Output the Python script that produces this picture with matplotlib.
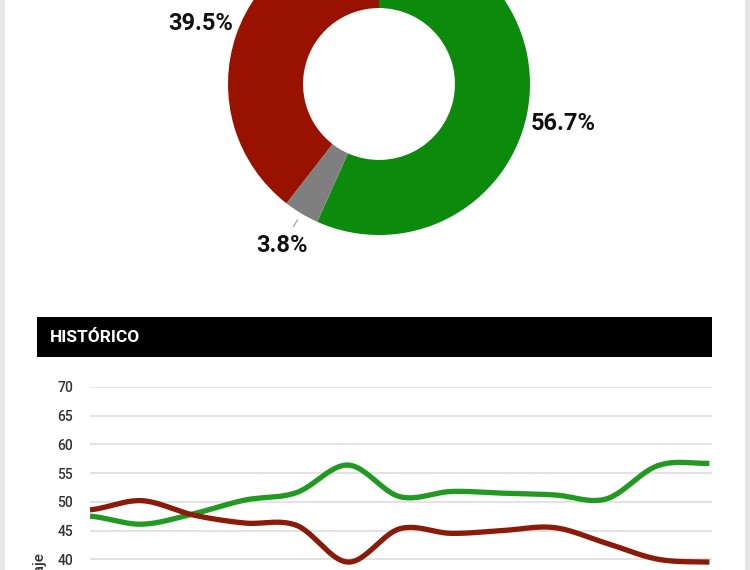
import numpy as np
import matplotlib
matplotlib.use("Agg")
import matplotlib.pyplot as plt
from matplotlib.patches import Rectangle

plt.rcParams['font.family'] = ['Roboto', 'DejaVu Sans']

# DONUT DATA (clockwise from the top)
donut_labels = ["56.7%", "3.8%", "39.5%"]
donut_values = [56.7, 3.8, 39.5]
donut_colors = ["#0b8a0b", "#7f7f7f", "#991200"]

# HISTORY DATA
hist_x = list(range(13))
hist_green = [47.5, 46.1, 47.9, 50.3, 51.6, 56.4, 50.9, 51.8, 51.5, 51.2, 50.5, 56.3, 56.7]
hist_red = [48.6, 50.2, 47.7, 46.3, 45.9, 39.5, 45.3, 44.5, 45.0, 45.5, 42.8, 40.0, 39.5]
y_ticks = [0, 5, 10, 15, 20, 25, 30, 35, 40, 45, 50, 55, 60, 65, 70]


def catmull_rom(xs, ys, n=24):
    # smooth curve through the points, like the tension lines of the web chart
    xs = np.asarray(xs, float)
    ys = np.asarray(ys, float)
    px = np.concatenate([[2 * xs[0] - xs[1]], xs, [2 * xs[-1] - xs[-2]]])
    py = np.concatenate([[ys[0]], ys, [ys[-1]]])
    out_x, out_y = [], []
    t = np.linspace(0, 1, n, endpoint=False)
    for i in range(1, len(px) - 2):
        for p, out in ((px, out_x), (py, out_y)):
            p0, p1, p2, p3 = p[i - 1], p[i], p[i + 1], p[i + 2]
            out.extend(0.5 * ((2 * p1) + (-p0 + p2) * t
                              + (2 * p0 - 5 * p1 + 4 * p2 - p3) * t ** 2
                              + (-p0 + 3 * p1 - 3 * p2 + p3) * t ** 3))
    out_x.append(xs[-1])
    out_y.append(ys[-1])
    return np.array(out_x), np.array(out_y)


W, H = 750, 570
fig = plt.figure(figsize=(7.5, 5.7), dpi=100)
fig.patch.set_facecolor("white")

# side borders
fig.add_artist(Rectangle((0, 0), 5 / W, 1, transform=fig.transFigure, color="#e6e6e6", lw=0))
fig.add_artist(Rectangle((745 / W, 0), 5 / W, 1, transform=fig.transFigure, color="#e6e6e6", lw=0))

# DONUT
cx, cy, r_out, half = 379, 84, 151, 200
ax_d = fig.add_axes([(cx - half) / W, 1 - (cy + half) / H, 2 * half / W, 2 * half / H])
wedges, texts = ax_d.pie(donut_values, labels=donut_labels, colors=donut_colors,
                         startangle=90, counterclock=False, radius=1,
                         labeldistance=1.245, wedgeprops=dict(width=0.497, linewidth=0))
for t in texts:
    t.set_ha("center")
    t.set_va("center")
    t.set_fontsize(17)
    t.set_fontweight("bold")
    t.set_color("#111111")
lim = half / r_out
ax_d.set_xlim(-lim, lim)
ax_d.set_ylim(-lim, lim)
ax_d.set_aspect("equal")
ax_d.axis("off")

# small leader line of the grey slice
mid = np.deg2rad((wedges[1].theta1 + wedges[1].theta2) / 2)
ax_d.plot([1.05 * np.cos(mid), 1.1 * np.cos(mid)], [1.05 * np.sin(mid), 1.1 * np.sin(mid)],
          color="#999999", lw=0.8)

# HEADER BAR
fig.add_artist(Rectangle((37 / W, 1 - 357 / H), 675 / W, 40 / H, transform=fig.transFigure,
                         color="black", lw=0))
fig.text(50 / W, 1 - 337 / H, "HISTÓRICO", color="white", fontsize=12.5,
         fontweight="bold", ha="left", va="center")

# LINE CHART (bottom of it runs off the picture)
px_per_unit = 28.7 / 5
top = 387
bottom = top + 70 * px_per_unit
ax = fig.add_axes([90 / W, 1 - bottom / H, 622 / W, (bottom - top) / H])
gx, gy = catmull_rom(hist_x, hist_green)
rx, ry = catmull_rom(hist_x, hist_red)
ax.plot(gx, gy, color="#229a22", lw=3.8, solid_capstyle="butt", zorder=3)
ax.plot(rx, ry, color="#8a1a0a", lw=3.8, solid_capstyle="butt", zorder=3)
ax.set_xlim(0, 12.05)
ax.set_ylim(0, 70)
ax.set_yticks(y_ticks)
ax.set_xticks([])
ax.grid(axis="y", color="#e3e3e3", lw=1.5)
ax.set_axisbelow(True)
for s in ax.spines.values():
    s.set_visible(False)
ax.tick_params(axis="y", length=0, pad=12, labelsize=10, labelcolor="#333333")
for lbl in ax.get_yticklabels():
    lbl.set_fontweight("medium")
ax.set_ylabel("Porcentaje", fontsize=11, color="#333333", labelpad=8, fontweight="medium")

fig.savefig("out.png", dpi=100, facecolor="white")
